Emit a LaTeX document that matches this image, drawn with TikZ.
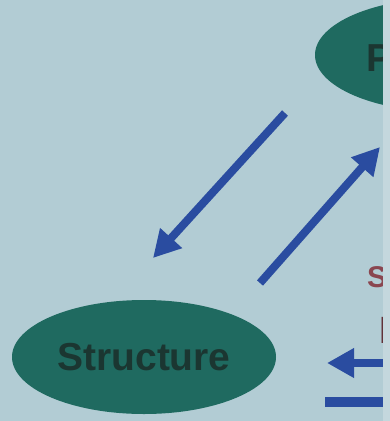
\documentclass[tikz,border=0pt]{standalone}
\usepackage{fontspec}
\setmainfont{Liberation Sans}
\usetikzlibrary{shapes.geometric,arrows.meta}
\definecolor{slidebg}{HTML}{B2CCD4}
\definecolor{slideedge}{HTML}{C4D7DD}
\definecolor{blobgreen}{HTML}{1F6A60}
\definecolor{blobink}{HTML}{1B3631}
\definecolor{arrowblue}{HTML}{2A4CA0}
\definecolor{sred}{HTML}{8A4650}
\begin{document}
\begin{tikzpicture}[x=1pt,y=-1pt,
  blob/.style={ellipse,fill=blobgreen,minimum width=264pt,minimum height=114pt,inner sep=0pt},
  bigbold/.style={font=\bfseries\fontsize{39}{39}\selectfont,text=blobink,inner sep=0pt},
  link/.style={draw=arrowblue,line width=8pt,-{Triangle[length=27pt,width=28pt]}}]
\useasboundingbox (0,0) rectangle (390,421);
\fill[slidebg] (0,0) rectangle (390,421);
\begin{scope}
\clip (0,0) rectangle (383,421);
% Ellipses
\node[blob] (props) at (447,55) {};
\node[bigbold,anchor=west] (plabel) at (366,58) {P};
\node[blob,bigbold] (struct) at (144,357) {Structure};

% Red letters on the right
\node[font=\bfseries\fontsize{30}{30}\selectfont,text=sred,anchor=west,inner sep=0pt] (sletter) at (367,277) {S};
\node[font=\bfseries\fontsize{38}{38}\selectfont,text=sred!70!black,anchor=west,inner sep=0pt] (iletter) at (379,330) {I};

% Arrow ends
\coordinate (a1s) at (285,113);
\coordinate (a1e) at (153,258);
\coordinate (a2s) at (260,283);
\coordinate (a2e) at (380,147);
\coordinate (a3s) at (390,363);
\coordinate (a3e) at (327,363);
\coordinate (bls) at (325,402);
\coordinate (ble) at (390,402);

\foreach \a/\b in {a1s/a1e, a2s/a2e, a3s/a3e}
  \draw[link] (\a) -- (\b);
\draw[arrowblue,line width=10pt] (bls) -- (ble);
\end{scope}
% Lighter strip at the edge
\fill[slideedge] (383,0) rectangle (390,421);
\end{tikzpicture}
\end{document}
